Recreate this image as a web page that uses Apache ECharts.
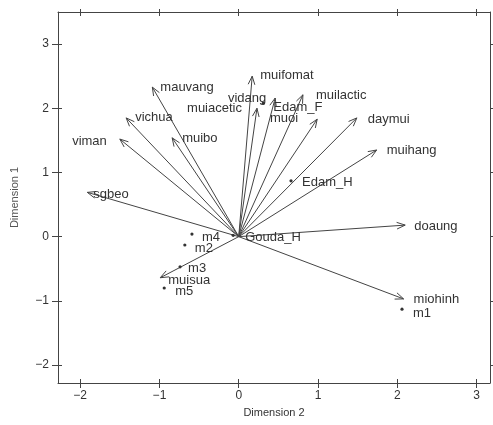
<!DOCTYPE html>
<html>
<head>
<meta charset="utf-8">
<script src="https://cdn.jsdelivr.net/npm/echarts@6/dist/echarts.min.js"></script>
<style>
html,body{margin:0;padding:0;background:#fff;}
#c{width:493px;height:425px;}
</style>
</head>
<body>
<div id="c"></div>
<script>
// ---- data ----
const variables = ['mauvang','vichua','viman','muibo','sgbeo','muifomat','muiacetic','vidang','muilactic','muoi','daymui','muihang','doaung','miohinh','muisua'];
const varX = [-1.09,-1.42,-1.50,-0.84,-1.91,0.17,0.23,0.46,0.81,0.99,1.49,1.74,2.10,2.08,-0.99];
const varY = [2.33,1.85,1.52,1.54,0.69,2.50,2.00,2.16,2.21,1.83,1.85,1.35,0.18,-0.97,-0.64];
const samples = ['m1','m2','m3','m4','m5','Gouda_H','Edam_F','Edam_H'];
const sampleX = [2.06,-0.68,-0.74,-0.59,-0.94,-0.07,0.31,0.66];
const sampleY = [-1.13,-0.13,-0.47,0.04,-0.80,0.02,2.08,0.87];
const tickValues = [-2,-1,0,1,2,3];

// ---- label placement (pixel offsets, alignment) ----
const varLabelPlace = [[8,0,'left'],[9,0,'left'],[-13,2,'right'],[10,1,'left'],[6,2,'left'],[8,-1,'left'],[-15,0,'right'],[-9,0,'right'],[13,1,'left'],[-19,-1,'right'],[11,2,'left'],[10,0,'left'],[9,1,'left'],[10,1,'left'],[8,3,'left']];
const sampleLabelPlace = [[11,4,'left'],[10,3,'left'],[8,2,'left'],[10,3,'left'],[11,3,'left'],[12,2,'left'],[10,4,'left'],[11,2,'left']];

const INK = '#333333';
const LINE = '#444444';
const FONT = '13px "Liberation Sans", Arial, sans-serif';
const XMIN = -2.28, XMAX = 3.17, YMIN = -2.28, YMAX = 3.5;

const chart = echarts.init(document.getElementById('c'), null, {renderer:'canvas'});

function axisX(pos, inside, len, showLabel, showLine, name){
  return {
    type:'value', position:pos, min:XMIN, max:XMAX,
    splitLine:{show:false},
    axisLine:{show:showLine, onZero:false, lineStyle:{color:LINE, width:1}},
    axisTick:{show:true, inside:inside, length:len, customValues:tickValues, lineStyle:{color:LINE, width:1}},
    axisLabel:{show:showLabel, customValues:tickValues, color:INK, fontSize:12, margin:7,
      fontFamily:'"Liberation Sans", Arial, sans-serif',
      formatter:v=> (v<0? '\u2212'+Math.abs(v) : String(v))},
    name:name||'', nameLocation:'middle', nameGap:24,
    nameTextStyle:{color:INK, fontSize:11, fontFamily:'"Liberation Sans", Arial, sans-serif'}
  };
}
function axisY(pos, inside, len, showLabel, showLine, name){
  return {
    type:'value', position:pos, min:YMIN, max:YMAX,
    splitLine:{show:false},
    axisLine:{show:showLine, onZero:false, lineStyle:{color:LINE, width:1}},
    axisTick:{show:true, inside:inside, length:len, customValues:tickValues, lineStyle:{color:LINE, width:1}},
    axisLabel:{show:showLabel, customValues:tickValues, color:INK, fontSize:12, margin:9,
      fontFamily:'"Liberation Sans", Arial, sans-serif',
      formatter:v=> (v<0? '\u2212'+Math.abs(v) : String(v))},
    name:name||'', nameLocation:'middle', nameGap:38, nameRotate:90,
    nameTextStyle:{color:'#555', fontSize:11, fontFamily:'"Liberation Sans", Arial, sans-serif'}
  };
}

function renderArrow(params, api){
  const i = params.dataIndex;
  const p0 = api.coord([0,0]);
  const p1 = api.coord([api.value(0), api.value(1)]);
  const ang = Math.atan2(p1[1]-p0[1], p1[0]-p0[0]);
  const L = 9, a = 0.38;
  const h1 = [p1[0]-L*Math.cos(ang-a), p1[1]-L*Math.sin(ang-a)];
  const h2 = [p1[0]-L*Math.cos(ang+a), p1[1]-L*Math.sin(ang+a)];
  const pl = varLabelPlace[i];
  return {
    type:'group',
    children:[
      {type:'line', shape:{x1:p0[0],y1:p0[1],x2:p1[0],y2:p1[1]}, style:{stroke:LINE, lineWidth:1}},
      {type:'polyline', shape:{points:[h1,p1,h2]}, style:{stroke:LINE, lineWidth:1, fill:null}},
      {type:'text', x:p1[0]+pl[0], y:p1[1]+pl[1],
        style:{text:variables[i], fill:INK, font:FONT, align:pl[2], verticalAlign:'middle'}}
    ]
  };
}
function renderSampleLabel(params, api){
  const i = params.dataIndex;
  const p = api.coord([api.value(0), api.value(1)]);
  const pl = sampleLabelPlace[i];
  return {
    type:'group',
    children:[
      {type:'circle', shape:{cx:p[0], cy:p[1], r:1.6}, style:{fill:INK}},
      {type:'text', x:p[0]+pl[0], y:p[1]+pl[1],
        style:{text:samples[i], fill:INK, font:FONT, align:pl[2], verticalAlign:'middle'}}
    ]
  };
}

chart.setOption({
  animation:false,
  backgroundColor:'#ffffff',
  grid:{left:58, right:3, top:12, bottom:42, outerBoundsMode:'none', show:false},
  xAxis:[
    axisX('bottom', false, 5, true, true, 'Dimension 2'),
    axisX('bottom', true, 4, false, false),
    axisX('top', false, 3, false, true),
    axisX('top', true, 4, false, false)
  ],
  yAxis:[
    axisY('left', false, 6, true, true, 'Dimension 1'),
    axisY('left', true, 4, false, false),
    axisY('right', false, 3, false, true)
  ],
  series:[
    {type:'custom', xAxisIndex:0, yAxisIndex:0, renderItem:renderArrow,
      data: variables.map((n,i)=>[varX[i], varY[i]]), encode:{x:0,y:1}, clip:false, silent:true},
    {type:'custom', xAxisIndex:0, yAxisIndex:0, renderItem:renderSampleLabel,
      data: samples.map((n,i)=>[sampleX[i], sampleY[i]]), encode:{x:0,y:1}, clip:false, silent:true}
  ]
});
</script>
</body>
</html>
